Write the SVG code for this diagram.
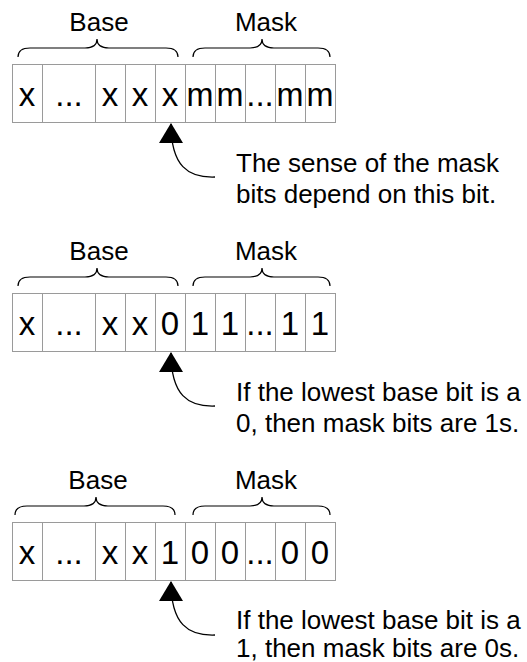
<svg xmlns="http://www.w3.org/2000/svg" xmlns:xlink="http://www.w3.org/1999/xlink" width="527" height="662" viewBox="0 0 527 662">
<style>
.cell{fill:#fff;stroke:#9a9a9a;stroke-width:1}
.bit{font-family:"Liberation Sans",Arial,sans-serif;font-size:33px;fill:#000;text-anchor:middle}
.lbl{font-family:"Liberation Sans",Arial,sans-serif;font-size:26px;fill:#000;text-anchor:middle}
.cap{font-family:"Liberation Sans",Arial,sans-serif;font-size:26px;fill:#000}
.brace{fill:none;stroke:#000;stroke-width:1.2}
.conn{fill:none;stroke:#000;stroke-width:1.3}
</style>
<defs>
<marker id="ah" markerWidth="20" markerHeight="24" viewBox="0 0 20 24" refX="19" refY="12" orient="auto" markerUnits="userSpaceOnUse">
<path d="M0,0 L20,12 L0,24 z" fill="#000"/>
</marker>
<g id="cells">
<rect class="cell" x="12.5" y="64.5" width="30" height="58"/>
<rect class="cell" x="42.5" y="64.5" width="53" height="58"/>
<rect class="cell" x="95.5" y="64.5" width="30" height="58"/>
<rect class="cell" x="125.5" y="64.5" width="30" height="58"/>
<rect class="cell" x="155.5" y="64.5" width="30" height="58"/>
<rect class="cell" x="185.5" y="64.5" width="30" height="58"/>
<rect class="cell" x="215.5" y="64.5" width="30" height="58"/>
<rect class="cell" x="245.5" y="64.5" width="30" height="58"/>
<rect class="cell" x="275.5" y="64.5" width="30" height="58"/>
<rect class="cell" x="305.5" y="64.5" width="30" height="58"/>
</g>
</defs>

<g id="row1">
<use xlink:href="#cells"/>
<text class="bit" x="27" y="105.5">x</text>
<text class="bit" x="69" y="105.5">...</text>
<text class="bit" x="110" y="105.5">x</text>
<text class="bit" x="140" y="105.5">x</text>
<text class="bit" x="170" y="105.5">x</text>
<text class="bit" x="200" y="105.5" textLength="27" lengthAdjust="spacingAndGlyphs">m</text>
<text class="bit" x="230" y="105.5" textLength="27" lengthAdjust="spacingAndGlyphs">m</text>
<text class="bit" x="260" y="105.5">...</text>
<text class="bit" x="290" y="105.5" textLength="27" lengthAdjust="spacingAndGlyphs">m</text>
<text class="bit" x="320" y="105.5" textLength="27" lengthAdjust="spacingAndGlyphs">m</text>
</g>
<g id="base1">
<path class="brace" d="M18,57 Q18,48 30,48 L85,48 Q97,48 97,39 Q97,48 109,48 L166,48 Q178,48 178,57"/>
<text class="lbl" x="99" y="30.5">Base</text>
</g>
<g id="mask1">
<path class="brace" d="M193,57 Q193,48 205,48 L250,48 Q262,48 262,39 Q262,48 274,48 L318,48 Q330,48 330,57"/>
<text class="lbl" x="266" y="30.5">Mask</text>
</g>
<g id="note1">
<text class="cap" x="236" y="171.5">The sense of the mask</text>
<text class="cap" x="236" y="202.5">bits depend on this bit.</text>
</g>

<g id="row2" transform="translate(0,229)">
<use xlink:href="#cells"/>
<text class="bit" x="27" y="105.5">x</text>
<text class="bit" x="69" y="105.5">...</text>
<text class="bit" x="110" y="105.5">x</text>
<text class="bit" x="140" y="105.5">x</text>
<text class="bit" x="170" y="105.5">0</text>
<text class="bit" x="200" y="105.5">1</text>
<text class="bit" x="230" y="105.5">1</text>
<text class="bit" x="260" y="105.5">...</text>
<text class="bit" x="290" y="105.5">1</text>
<text class="bit" x="320" y="105.5">1</text>
</g>
<g id="base2" transform="translate(0,229)">
<path class="brace" d="M18,57 Q18,48 30,48 L85,48 Q97,48 97,39 Q97,48 109,48 L166,48 Q178,48 178,57"/>
<text class="lbl" x="99" y="30.5">Base</text>
</g>
<g id="mask2" transform="translate(0,229)">
<path class="brace" d="M193,57 Q193,48 205,48 L250,48 Q262,48 262,39 Q262,48 274,48 L318,48 Q330,48 330,57"/>
<text class="lbl" x="266" y="30.5">Mask</text>
</g>
<g id="note2" transform="translate(0,229)">
<text class="cap" x="236" y="171.5">If the lowest base bit is a</text>
<text class="cap" x="236" y="202.5">0, then mask bits are 1s.</text>
</g>

<g id="row3" transform="translate(0,458)">
<use xlink:href="#cells"/>
<text class="bit" x="27" y="105.5">x</text>
<text class="bit" x="69" y="105.5">...</text>
<text class="bit" x="110" y="105.5">x</text>
<text class="bit" x="140" y="105.5">x</text>
<text class="bit" x="170" y="105.5">1</text>
<text class="bit" x="200" y="105.5">0</text>
<text class="bit" x="230" y="105.5">0</text>
<text class="bit" x="260" y="105.5">...</text>
<text class="bit" x="290" y="105.5">0</text>
<text class="bit" x="320" y="105.5">0</text>
</g>
<g id="base3" transform="translate(0,458)">
<path class="brace" d="M15,57 Q15,48 27,48 L84,48 Q96,48 96,39 Q96,48 108,48 L163,48 Q175,48 175,57"/>
<text class="lbl" x="98" y="30.5">Base</text>
</g>
<g id="mask3" transform="translate(0,458)">
<path class="brace" d="M193,57 Q193,48 205,48 L250,48 Q262,48 262,39 Q262,48 274,48 L318,48 Q330,48 330,57"/>
<text class="lbl" x="266" y="30.5">Mask</text>
</g>
<g id="note3" transform="translate(0,458)">
<text class="cap" x="236" y="170.5">If the lowest base bit is a</text>
<text class="cap" x="236" y="199">1, then mask bits are 0s.</text>
</g>

<g id="connectors">
<path class="conn" marker-end="url(#ah)" d="M215,177 C188,178 171,166 171,124"/>
<path class="conn" marker-end="url(#ah)" d="M215,406 C188,407 171,395 171,353"/>
<path class="conn" marker-end="url(#ah)" d="M215,635 C188,636 171,624 171,582"/>
</g>
</svg>
